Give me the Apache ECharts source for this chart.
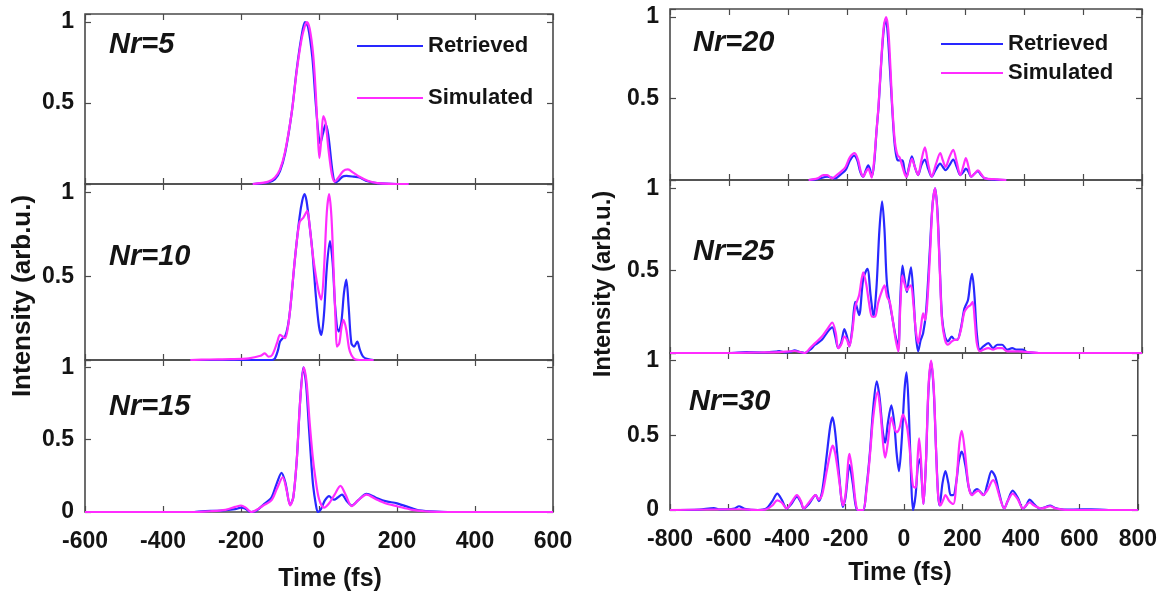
<!DOCTYPE html>
<html>
<head>
<meta charset="utf-8">
<script src="https://cdn.jsdelivr.net/npm/echarts@6/dist/echarts.min.js"></script>
<style>
html, body { margin: 0; padding: 0; background: #ffffff; }
#chart { width: 1160px; height: 595px; }
</style>
</head>
<body>
<div id="chart"></div>
<script>
// Pulse intensity profiles, retrieved vs simulated, for six values of Nr.
const seriesNames = ['Retrieved', 'Simulated'];
const panelLabels = ['Nr=5', 'Nr=10', 'Nr=15', 'Nr=20', 'Nr=25', 'Nr=30'];
const yTickLabels = [0, 0.5, 1];
const timeRanges = [[-600, 600], [-800, 800]];
const xAxisTitle = 'Time (fs)';
const yAxisTitle = 'Intensity (arb.u.)';

// [time (fs), normalised intensity]
const nr5Retrieved = [[-170,0],[-130,0.01],[-113,0.03],[-100,0.08],[-87,0.19],[-70,0.44],[-57,0.71],[-45,0.91],[-36,1.0],[-28,0.97],[-17,0.78],[-9,0.52],[-2,0.32],[3,0.25],[10,0.31],[17,0.37],[24,0.3],[35,0.07],[42,0.01],[50,0.02],[60,0.045],[70,0.05],[90,0.045],[104,0.04],[120,0.02],[148,0.005],[200,0],[230,0]];
const nr5Simulated = [[-170,0],[-130,0.015],[-113,0.04],[-100,0.09],[-87,0.2],[-70,0.44],[-57,0.7],[-45,0.89],[-37,0.97],[-31,1.0],[-24,0.96],[-15,0.8],[-8,0.55],[-3,0.3],[1,0.16],[6,0.28],[11,0.42],[17,0.38],[24,0.22],[33,0.06],[40,0.015],[50,0.04],[62,0.08],[74,0.09],[88,0.07],[104,0.045],[125,0.02],[150,0.005],[200,0],[230,0]];

const nr10Retrieved = [[-330,0],[-200,0],[-122,0],[-113,0.01],[-105,0.06],[-100,0.11],[-93,0.13],[-87,0.14],[-80,0.2],[-74,0.3],[-61,0.62],[-50,0.85],[-43,0.95],[-37,0.99],[-32,0.95],[-25,0.82],[-17,0.65],[-8,0.38],[0,0.2],[6,0.15],[13,0.28],[20,0.55],[28,0.71],[35,0.58],[42,0.3],[50,0.17],[57,0.22],[64,0.4],[70,0.48],[76,0.32],[83,0.1],[90,0.08],[98,0.11],[105,0.06],[113,0.02],[125,0.005],[140,0]];
const nr10Simulated = [[-330,0],[-280,0.003],[-226,0.005],[-180,0.01],[-150,0.025],[-139,0.04],[-130,0.02],[-120,0.03],[-108,0.1],[-100,0.15],[-93,0.14],[-87,0.13],[-80,0.19],[-74,0.3],[-61,0.62],[-50,0.82],[-40,0.85],[-30,0.89],[-24,0.8],[-17,0.65],[-8,0.5],[0,0.4],[6,0.36],[13,0.55],[20,0.88],[26,0.99],[32,0.85],[38,0.5],[43,0.2],[46,0.08],[52,0.1],[58,0.2],[63,0.24],[70,0.18],[77,0.07],[83,0.03],[92,0.005],[110,0],[140,0]];

const nr15Retrieved = [[-600,0],[-320,0],[-300,0.005],[-250,0.01],[-215,0.02],[-200,0.03],[-190,0.025],[-174,0],[-160,0.01],[-143,0.05],[-122,0.1],[-108,0.2],[-96,0.27],[-86,0.2],[-74,0.05],[-66,0.1],[-57,0.36],[-48,0.78],[-40,1.0],[-33,0.88],[-26,0.59],[-20,0.35],[-15,0.18],[-8,0.05],[-3,0],[5,0.02],[15,0.08],[26,0.11],[34,0.09],[39,0.085],[48,0.1],[59,0.12],[70,0.08],[84,0.045],[100,0.08],[122,0.125],[145,0.1],[170,0.075],[200,0.06],[239,0.025],[256,0.012],[300,0.002],[330,0],[600,0]];
const nr15Simulated = [[-600,0],[-320,0],[-280,0.005],[-240,0.015],[-215,0.035],[-200,0.045],[-188,0.03],[-174,0],[-160,0.015],[-143,0.045],[-122,0.08],[-108,0.16],[-93,0.24],[-83,0.15],[-74,0.045],[-66,0.1],[-57,0.36],[-48,0.78],[-39,1.0],[-32,0.9],[-24,0.62],[-16,0.38],[-10,0.25],[0,0.09],[13,0.03],[26,0.06],[40,0.12],[55,0.18],[68,0.12],[84,0.04],[100,0.08],[122,0.12],[145,0.09],[170,0.06],[200,0.04],[239,0.015],[270,0.005],[320,0],[600,0]];

const nr20Retrieved = [[-330,0],[-300,0.005],[-267,0.02],[-240,0.01],[-221,0.035],[-205,0.06],[-190,0.12],[-176,0.15],[-165,0.12],[-155,0.05],[-145,0.02],[-136,0.06],[-128,0.09],[-121,0.06],[-116,0.02],[-108,0.1],[-100,0.3],[-93,0.45],[-83,0.75],[-75,0.93],[-68,0.99],[-62,0.9],[-55,0.7],[-47,0.45],[-40,0.25],[-35,0.17],[-28,0.12],[-20,0.12],[-12,0.12],[-5,0.06],[2,0.02],[10,0.08],[20,0.145],[30,0.08],[41,0.03],[52,0.09],[64,0.125],[75,0.07],[87,0.02],[100,0.06],[116,0.1],[125,0.08],[134,0.06],[147,0.09],[160,0.125],[172,0.08],[184,0.03],[195,0.05],[203,0.07],[212,0.05],[221,0.02],[233,0.04],[244,0.055],[255,0.03],[267,0.01],[300,0.002],[340,0]];
const nr20Simulated = [[-330,0],[-300,0.01],[-280,0.03],[-267,0.03],[-250,0.01],[-235,0.03],[-221,0.05],[-205,0.08],[-190,0.14],[-174,0.165],[-162,0.12],[-153,0.05],[-145,0.02],[-136,0.05],[-128,0.07],[-121,0.04],[-116,0.015],[-108,0.12],[-100,0.3],[-93,0.46],[-83,0.76],[-75,0.95],[-67,1.0],[-60,0.92],[-53,0.7],[-47,0.47],[-40,0.28],[-35,0.2],[-28,0.15],[-22,0.14],[-15,0.1],[-5,0.04],[2,0.02],[10,0.07],[20,0.13],[30,0.08],[41,0.03],[52,0.12],[64,0.2],[75,0.1],[87,0.02],[102,0.1],[116,0.165],[125,0.12],[134,0.08],[147,0.14],[160,0.185],[172,0.11],[184,0.03],[195,0.09],[203,0.135],[212,0.08],[221,0.02],[233,0.04],[244,0.06],[255,0.035],[267,0.01],[300,0.005],[340,0]];

const nr25Retrieved = [[-800,0],[-600,0],[-540,0.005],[-480,0.003],[-440,0.008],[-430,0.012],[-410,0.004],[-390,0.008],[-378,0.016],[-360,0.006],[-343,0],[-325,0.02],[-308,0.05],[-285,0.08],[-265,0.13],[-250,0.155],[-240,0.1],[-230,0.03],[-220,0.06],[-209,0.145],[-200,0.1],[-192,0.04],[-182,0.15],[-172,0.31],[-159,0.23],[-145,0.45],[-131,0.51],[-120,0.35],[-110,0.22],[-100,0.4],[-90,0.75],[-81,0.92],[-73,0.75],[-64,0.41],[-45,0.2],[-35,0.1],[-26,0.04],[-20,0.3],[-12,0.53],[-5,0.45],[3,0.37],[10,0.45],[17,0.52],[25,0.35],[33,0.12],[41,0.01],[50,0.08],[58,0.12],[68,0.25],[80,0.6],[90,0.9],[99,1.0],[107,0.85],[115,0.5],[122,0.22],[132,0.1],[142,0.07],[155,0.1],[165,0.08],[174,0.08],[186,0.15],[198,0.27],[210,0.32],[218,0.43],[224,0.48],[232,0.35],[240,0.12],[250,0.02],[262,0.04],[279,0.06],[295,0.03],[310,0.05],[326,0.05],[343,0.02],[360,0.03],[375,0.02],[395,0.02],[410,0.005],[450,0],[800,0]];
const nr25Simulated = [[-800,0],[-600,0],[-500,0.003],[-430,0.005],[-378,0.012],[-343,0],[-325,0.03],[-308,0.06],[-285,0.1],[-265,0.15],[-250,0.185],[-238,0.12],[-230,0.03],[-220,0.05],[-209,0.1],[-200,0.08],[-192,0.04],[-182,0.13],[-172,0.28],[-159,0.35],[-145,0.49],[-135,0.42],[-125,0.3],[-115,0.22],[-105,0.22],[-95,0.3],[-85,0.36],[-73,0.41],[-64,0.34],[-55,0.31],[-45,0.2],[-35,0.08],[-26,0.01],[-20,0.25],[-12,0.47],[-5,0.42],[3,0.38],[10,0.4],[17,0.41],[25,0.3],[33,0.14],[41,0.06],[50,0.15],[58,0.24],[65,0.2],[72,0.3],[82,0.62],[90,0.9],[99,1.0],[107,0.83],[115,0.48],[122,0.2],[132,0.08],[142,0.05],[155,0.07],[165,0.08],[174,0.08],[186,0.14],[198,0.25],[210,0.28],[218,0.29],[226,0.31],[233,0.2],[240,0.06],[250,0.01],[262,0.02],[279,0.03],[295,0.02],[310,0.03],[326,0.03],[343,0.01],[380,0.01],[450,0],[800,0]];

const nr30Retrieved = [[-800,0],[-700,0.003],[-650,0.012],[-630,0.004],[-580,0.01],[-564,0.025],[-545,0.008],[-500,0],[-470,0.01],[-450,0.06],[-433,0.11],[-418,0.07],[-401,0.01],[-385,0.04],[-366,0.09],[-352,0.05],[-343,0.01],[-325,0.04],[-302,0.1],[-291,0.06],[-280,0.12],[-265,0.35],[-252,0.56],[-244,0.62],[-235,0.52],[-220,0.2],[-209,0.02],[-200,0.08],[-186,0.3],[-175,0.18],[-165,0.03],[-157,0],[-140,0],[-128,0.15],[-116,0.39],[-105,0.68],[-93,0.86],[-83,0.75],[-72,0.52],[-64,0.45],[-55,0.58],[-43,0.7],[-33,0.58],[-25,0.38],[-17,0.26],[-8,0.45],[2,0.8],[9,0.92],[17,0.65],[24,0.25],[31,0],[40,0.1],[48,0.3],[55,0.34],[61,0.2],[67,0.04],[75,0.3],[84,0.8],[93,0.99],[102,0.8],[110,0.4],[117,0.1],[122,0.03],[132,0.18],[142,0.26],[152,0.18],[160,0.1],[169,0.1],[180,0.2],[188,0.33],[198,0.39],[210,0.3],[222,0.15],[233,0.1],[242,0.13],[250,0.14],[262,0.12],[273,0.1],[285,0.17],[300,0.26],[313,0.22],[325,0.12],[343,0.01],[355,0.06],[372,0.13],[390,0.08],[407,0.01],[418,0.03],[430,0.07],[445,0.04],[465,0.01],[485,0.02],[500,0.03],[515,0.015],[540,0.005],[580,0.003],[640,0.005],[700,0],[800,0]];
const nr30Simulated = [[-800,0],[-560,0.005],[-500,0],[-470,0.005],[-450,0.03],[-433,0.065],[-418,0.05],[-401,0.01],[-385,0.05],[-366,0.1],[-352,0.06],[-343,0.01],[-325,0.05],[-302,0.1],[-291,0.07],[-280,0.1],[-265,0.25],[-252,0.38],[-244,0.43],[-235,0.38],[-220,0.18],[-209,0.03],[-200,0.1],[-186,0.375],[-176,0.25],[-165,0.05],[-157,0],[-140,0],[-128,0.13],[-116,0.37],[-105,0.62],[-90,0.79],[-80,0.65],[-70,0.42],[-64,0.35],[-55,0.45],[-43,0.62],[-33,0.55],[-25,0.52],[-15,0.55],[-3,0.64],[5,0.6],[12,0.54],[20,0.4],[31,0.16],[40,0.15],[47,0.35],[52,0.48],[58,0.35],[67,0.04],[75,0.3],[84,0.82],[93,1.0],[102,0.82],[110,0.4],[117,0.1],[125,0.03],[135,0.07],[142,0.1],[155,0.06],[169,0.04],[180,0.2],[190,0.45],[198,0.53],[208,0.4],[222,0.15],[233,0.1],[245,0.12],[255,0.13],[270,0.1],[285,0.13],[305,0.2],[315,0.17],[330,0.07],[343,0.01],[355,0.06],[372,0.11],[390,0.07],[407,0.01],[430,0.05],[445,0.03],[470,0.01],[500,0.025],[520,0.01],[560,0],[800,0]];

const panelData = [
  [nr5Retrieved, nr5Simulated],
  [nr10Retrieved, nr10Simulated],
  [nr15Retrieved, nr15Simulated],
  [nr20Retrieved, nr20Simulated],
  [nr25Retrieved, nr25Simulated],
  [nr30Retrieved, nr30Simulated]
];

// ---- layout and styling ----
const FONT = '"Liberation Sans", Arial, Helvetica, sans-serif';
const BLUE = '#2828ff';
const MAGENTA = '#ff2cff';
const FRAME = '#4a4a4a';
const TEXT = '#141414';

const columns = [
  { left: 85, width: 468 },
  { left: 670, width: 472 }
];
const panels = [
  { col: 0, top: 14,  height: 170, tag: [109, 45] },
  { col: 0, top: 184, height: 176, tag: [109, 257] },
  { col: 0, top: 360, height: 152, tag: [109, 407] },
  { col: 1, top: 9,   height: 171, tag: [693, 43] },
  { col: 1, top: 180, height: 173, tag: [693, 252] },
  { col: 1, top: 353, height: 157, tag: [689, 402] }
];

const grid = [], xAxis = [], yAxis = [], series = [], graphic = [];
const tickStyle = { show: true, inside: true, length: 6, lineStyle: { color: FRAME, width: 1.2 } };
const hiddenLine = { show: false, onZero: false };

panels.forEach((p, i) => {
  const c = columns[p.col];
  const range = timeRanges[p.col];
  const isBottom = (i % 3) === 2;

  grid.push({
    left: c.left, top: p.top, width: c.width, height: p.height,
    show: true, borderColor: FRAME, borderWidth: 1.6, backgroundColor: 'transparent'
  });

  ['bottom', 'top'].forEach(pos => {
    xAxis.push({
      type: 'value', gridIndex: i, position: pos,
      min: range[0], max: range[1], interval: 200,
      axisLine: hiddenLine, splitLine: { show: false }, axisTick: tickStyle,
      axisLabel: {
        show: pos === 'bottom' && isBottom, margin: 18,
        fontSize: 23, fontWeight: 'bold', color: TEXT, fontFamily: FONT
      }
    });
  });

  ['left', 'right'].forEach(pos => {
    yAxis.push({
      type: 'value', gridIndex: i, position: pos,
      min: 0, max: 1.05, interval: 0.5,
      axisLine: hiddenLine, splitLine: { show: false }, axisTick: tickStyle,
      axisLabel: {
        show: pos === 'left', margin: 11,
        fontSize: 23, fontWeight: 'bold', color: TEXT, fontFamily: FONT,
        formatter: v => {
          if (!yTickLabels.includes(v)) return '';
          if (v === 0 && !isBottom) return '';
          return String(v);
        }
      }
    });
  });

  const [retrieved, simulated] = panelData[i];
  series.push({
    type: 'line', name: seriesNames[0], xAxisIndex: 2 * i, yAxisIndex: 2 * i,
    data: retrieved, symbol: 'none', smooth: 0.3, z: 3,
    lineStyle: { color: BLUE, width: 2.2 }, itemStyle: { color: BLUE }
  });
  series.push({
    type: 'line', name: seriesNames[1], xAxisIndex: 2 * i, yAxisIndex: 2 * i,
    data: simulated, symbol: 'none', smooth: 0.3, z: 4,
    lineStyle: { color: MAGENTA, width: 2.2 }, itemStyle: { color: MAGENTA }
  });

  graphic.push({
    type: 'text', x: p.tag[0], y: p.tag[1], z: 10,
    style: {
      text: panelLabels[i], fill: TEXT, fontFamily: FONT,
      fontSize: 29, fontWeight: 'bold', fontStyle: 'italic',
      align: 'left', verticalAlign: 'middle'
    }
  });
});

// Axis titles for each column
[
  { x: 23, y: 296, size: 26 },
  { x: 603, y: 284, size: 24 }
].forEach(t => graphic.push({
  type: 'text', x: t.x, y: t.y, rotation: Math.PI / 2,
  style: { text: yAxisTitle, fill: TEXT, fontFamily: FONT, fontSize: t.size, fontWeight: 'bold', align: 'center', verticalAlign: 'middle' }
}));
[
  { x: 330, y: 579, size: 25 },
  { x: 900, y: 573, size: 25 }
].forEach(t => graphic.push({
  type: 'text', x: t.x, y: t.y,
  style: { text: xAxisTitle, fill: TEXT, fontFamily: FONT, fontSize: t.size, fontWeight: 'bold', align: 'center', verticalAlign: 'middle' }
}));

const legendText = { fontSize: 22, fontWeight: 'bold', color: TEXT, fontFamily: FONT };
const legend = [
  { data: seriesNames, orient: 'vertical', left: 352, top: 30, icon: 'rect', itemWidth: 66, itemHeight: 2, itemGap: 30, selectedMode: false, textStyle: legendText },
  { data: seriesNames, orient: 'vertical', left: 936, top: 28, icon: 'rect', itemWidth: 62, itemHeight: 2, itemGap: 7, selectedMode: false, textStyle: legendText }
];

const chart = echarts.init(document.getElementById('chart'), null, { renderer: 'canvas' });
chart.setOption({
  animation: false,
  backgroundColor: '#ffffff',
  grid, xAxis, yAxis, series, legend, graphic
});
</script>
</body>
</html>
